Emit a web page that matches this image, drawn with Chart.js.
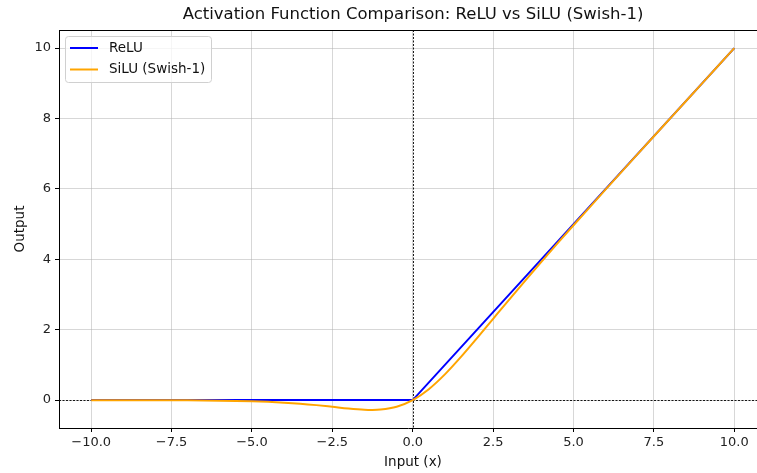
<!DOCTYPE html>
<html>
<head>
<meta charset="utf-8">
<script src="https://cdn.jsdelivr.net/npm/chart.js@4.4.0/dist/chart.umd.min.js"></script>
<style>
    html, body { margin: 0; padding: 0; background: #fff; }
    #wrap { width: 757px; height: 473px; }
</style>
</head>
<body>
<div id="wrap"><canvas id="chart" width="757" height="473"></canvas></div>
<script>
// input values and outputs
const xInput = [
    -10, -9.5, -9, -8.5, -8, -7.5, -7, -6.5, -6, -5.5, -5, -4.5, -4, -3.5, -3,
    -2.5, -2, -1.5, -1.25, -1, -0.5, 0, 0.5, 1, 1.5, 2, 2.5, 3, 3.5, 4, 4.5, 5,
    5.5, 6, 6.5, 7, 7.5, 8, 8.5, 9, 9.5, 10,
];
const siluValues = [
    -0.0005, -0.0007, -0.0011, -0.0017, -0.0027, -0.0041, -0.0064, -0.0098,
    -0.0148, -0.0224, -0.0335, -0.0494, -0.0719, -0.1026, -0.1423, -0.1897,
    -0.2384, -0.2736, -0.2784, -0.2689, -0.1888, 0, 0.3112, 0.7311, 1.2264,
    1.7616, 2.3104, 2.8577, 3.3974, 3.9281, 4.4506, 4.9665, 5.4776, 5.9852,
    6.4902, 6.9936, 7.4959, 7.9973, 8.4983, 8.9989, 9.4993, 9.9995,
];
const reluInput = [-10, 0, 10];
const reluValues = [0, 0, 10];

const xTicks = [-10, -7.5, -5, -2.5, 0, 2.5, 5, 7.5, 10];
const yTicks = [0, 2, 4, 6, 8, 10];

const chartTitle = "Activation Function Comparison: ReLU vs SiLU (Swish-1)";
const xLabel = "Input (x)";
const yLabel = "Output";

const FONT = "DejaVu Sans";
const gridColor = "rgba(176,176,176,0.5)";

const zeroLinesPlugin = {
    id: "zeroLines",
    beforeDatasetsDraw(chart) {
        const ctx = chart.ctx;
        const { left, right, top, bottom } = chart.chartArea;
        const x0 = Math.round(chart.scales.x.getPixelForValue(0)) + 0.5;
        const y0 = Math.round(chart.scales.y.getPixelForValue(0)) + 0.5;
        ctx.save();
        ctx.strokeStyle = "#000";
        ctx.lineWidth = 0.9;
        ctx.setLineDash([2, 1.5]);
        ctx.beginPath();
        ctx.moveTo(left, y0);
        ctx.lineTo(right, y0);
        ctx.moveTo(x0, top);
        ctx.lineTo(x0, bottom);
        ctx.stroke();
        ctx.restore();
    },
};

const framePlugin = {
    id: "frame",
    afterDraw(chart) {
        const ctx = chart.ctx;
        const { left, right, top, bottom } = chart.chartArea;
        ctx.save();
        // top spine
        ctx.strokeStyle = "#000";
        ctx.lineWidth = 1;
        ctx.beginPath();
        ctx.moveTo(left, Math.round(top) + 0.5);
        ctx.lineTo(right, Math.round(top) + 0.5);
        ctx.stroke();

        // title + axis labels
        ctx.fillStyle = "#111";
        ctx.textAlign = "center";
        ctx.textBaseline = "middle";
        ctx.font = `16.5px "${FONT}"`;
        ctx.fillText(chartTitle, 413, 15);
        ctx.font = `13.5px "${FONT}"`;
        ctx.fillText(xLabel, 413, 462);
        ctx.translate(20, 229);
        ctx.rotate(-Math.PI / 2);
        ctx.fillText(yLabel, 0, 0);
        ctx.restore();

        // legend box, upper left
        const bx = 65.5, by = 36.5, bw = 146, bh = 46;
        ctx.save();
        ctx.fillStyle = "rgba(255,255,255,0.8)";
        ctx.strokeStyle = "#d0d0d0";
        ctx.lineWidth = 1;
        ctx.beginPath();
        ctx.roundRect(bx, by, bw, bh, 3);
        ctx.fill();
        ctx.stroke();
        ctx.font = `13.5px "${FONT}"`;
        ctx.textAlign = "left";
        ctx.textBaseline = "middle";
        chart.data.datasets.forEach((ds, i) => {
            const y = 48 + i * 21.5;
            ctx.strokeStyle = ds.borderColor;
            ctx.lineWidth = 2;
            ctx.beginPath();
            ctx.moveTo(70, y);
            ctx.lineTo(98, y);
            ctx.stroke();
            ctx.fillStyle = "#111";
            ctx.fillText(ds.label, 109, y);
        });
        ctx.restore();
    },
};

const tickFont = { family: FONT, size: 13 };

new Chart(document.getElementById("chart"), {
    type: "line",
    data: {
        datasets: [
            {
                label: "ReLU",
                data: reluInput.map((x, i) => ({ x, y: reluValues[i] })),
                borderColor: "#0000ff",
                borderWidth: 2,
                pointRadius: 0,
                tension: 0,
                order: 2,
            },
            {
                label: "SiLU (Swish-1)",
                data: xInput.map((x, i) => ({ x, y: siluValues[i] })),
                borderColor: "#ffa500",
                borderWidth: 2,
                pointRadius: 0,
                cubicInterpolationMode: "monotone",
                order: 1,
            },
        ],
    },
    options: {
        responsive: false,
        animation: false,
        devicePixelRatio: 1,
        layout: { padding: { top: 30, right: 0, left: 0, bottom: 0 } },
        plugins: {
            legend: { display: false },
            title: { display: false },
            tooltip: { enabled: false },
        },
        scales: {
            x: {
                type: "linear",
                min: -11,
                max: 10.706,
                afterBuildTicks: (scale) => {
                    scale.ticks = xTicks.map((value) => ({ value }));
                },
                afterFit: (scale) => {
                    scale.height = 45;
                },
                grid: { color: gridColor, tickColor: "#000", tickLength: 4 },
                border: { display: true, color: "#000", width: 1 },
                ticks: {
                    color: "#222",
                    font: tickFont,
                    padding: 3,
                    maxRotation: 0,
                    autoSkip: false,
                    callback: (v) => v.toFixed(1).replace("-", "\u2212"),
                },
            },
            y: {
                type: "linear",
                min: -0.792,
                max: 10.514,
                afterBuildTicks: (scale) => {
                    scale.ticks = yTicks.map((value) => ({ value }));
                },
                afterFit: (scale) => {
                    scale.width = 59;
                },
                grid: { color: gridColor, tickColor: "#000", tickLength: 4 },
                border: { display: true, color: "#000", width: 1 },
                ticks: {
                    color: "#222",
                    font: tickFont,
                    padding: 4,
                    autoSkip: false,
                    callback: (v) => String(v),
                },
            },
        },
    },
    plugins: [zeroLinesPlugin, framePlugin],
});
</script>
</body>
</html>
